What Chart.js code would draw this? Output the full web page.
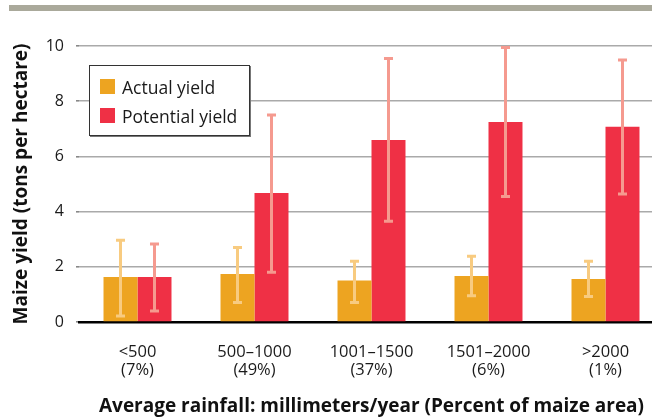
<!DOCTYPE html>
<html>
<head>
<meta charset="utf-8">
<script src="https://cdn.jsdelivr.net/npm/chart.js@4/dist/chart.umd.min.js"></script>
<style>
  html, body { margin: 0; padding: 0; background: #ffffff; overflow: hidden; }
  #wrap { position: relative; width: 652px; height: 418px; overflow: hidden; }
  #topbar { position: absolute; left: 9px; top: 5px; width: 643px; height: 6px; background: #aaa99b; }
  #chart { position: absolute; left: 0; top: 0; }
  #legend {
    position: absolute; left: 89px; top: 65px; width: 159px; height: 69px;
    border: 1px solid #333; box-shadow: 1px 1px 0 #777; background: #fff;
    font-family: "Open Sans", sans-serif; font-size: 17.5px; color: #1a1a1a;
  }
  .item { position: absolute; left: 10px; height: 16px; line-height: 16px; white-space: nowrap; }
  .sw { display: inline-block; width: 15px; height: 15px; vertical-align: top; margin-right: 7px; }
</style>
</head>
<body>
<div id="wrap">
  <div id="topbar"></div>
  <canvas id="chart" width="668" height="418"></canvas>
  <div id="legend">
    <div class="item" style="top:13px"><span class="sw" style="background:#eda421"></span>Actual yield</div>
    <div class="item" style="top:42px"><span class="sw" style="background:#ef3045"></span>Potential yield</div>
  </div>
</div>
<script>
// Rainfall classes (mm/year) with share of maize area
const categories = [
  ['<500', '(7%)'],
  ['500–1000', '(49%)'],
  ['1001–1500', '(37%)'],
  ['1501–2000', '(6%)'],
  ['>2000', '(1%)']
];

// Yields in tons per hectare
const actualYield = [1.63, 1.74, 1.50, 1.67, 1.56];
const actualLow   = [0.22, 0.71, 0.71, 0.95, 0.92];
const actualHigh  = [2.96, 2.70, 2.20, 2.38, 2.20];

const potentialYield = [1.63, 4.67, 6.59, 7.25, 7.07];
const potentialLow   = [0.40, 1.80, 3.65, 4.55, 4.64];
const potentialHigh  = [2.83, 7.50, 9.55, 9.95, 9.49];

const yTicks = [0, 2, 4, 6, 8, 10];

const FONT = '"Open Sans", sans-serif';

// Whisker ranges drawn over each bar
const errorBars = {
  id: 'errorBars',
  afterDatasetsDraw(chart) {
    const ctx = chart.ctx;
    const y = chart.scales.y;
    chart.data.datasets.forEach((ds, i) => {
      const meta = chart.getDatasetMeta(i);
      meta.data.forEach((bar, j) => {
        const top = y.getPixelForValue(ds.high[j]);
        const bot = y.getPixelForValue(ds.low[j]);
        ctx.save();
        ctx.strokeStyle = ds.errColor;
        ctx.lineWidth = 3;
        ctx.beginPath();
        ctx.moveTo(bar.x, top);
        ctx.lineTo(bar.x, bot);
        ctx.stroke();
        ctx.beginPath();
        ctx.moveTo(bar.x - 4.5, top);
        ctx.lineTo(bar.x + 4.5, top);
        ctx.moveTo(bar.x - 4.5, bot);
        ctx.lineTo(bar.x + 4.5, bot);
        ctx.stroke();
        ctx.restore();
      });
    });
  }
};

new Chart(document.getElementById('chart'), {
  type: 'bar',
  data: {
    labels: categories,
    datasets: [
      { label: 'Actual yield', data: actualYield, low: actualLow, high: actualHigh,
        backgroundColor: '#eda421', errColor: '#f8cb80' },
      { label: 'Potential yield', data: potentialYield, low: potentialLow, high: potentialHigh,
        backgroundColor: '#ef3045', errColor: '#f59a8f' }
    ]
  },
  options: {
    responsive: false,
    animation: false,
    devicePixelRatio: 1,
    layout: { padding: { top: 46, right: 4, left: 0, bottom: 0 } },
    datasets: { bar: { barPercentage: 1.0, categoryPercentage: 0.581 } },
    plugins: { legend: { display: false }, tooltip: { enabled: false } },
    scales: {
      x: {
        afterFit(s) { s.height = 96; },
        grid: { display: false, drawTicks: false },
        border: { display: true, color: '#000', width: 2.5 },
        ticks: { color: '#1a1a1a', padding: 21, font: { family: FONT, size: 16.5, lineHeight: 1.1 } },
        title: {
          display: true,
          text: 'Average rainfall: millimeters/year (Percent of maize area)',
          color: '#111',
          font: { family: FONT, size: 19, weight: 'bold' },
          padding: { top: 0, bottom: 0 }
        }
      },
      y: {
        min: 0, max: 10,
        afterFit(s) { s.width = 79; },
        afterBuildTicks(s) { s.ticks = yTicks.map(v => ({ value: v })); },
        grid: { color: '#aaaaaa', lineWidth: 1.6, tickLength: 3, tickColor: '#888' },
        border: { display: false },
        ticks: { color: '#1a1a1a', padding: 12, font: { family: FONT, size: 16 } },
        title: {
          display: true,
          text: 'Maize yield (tons per hectare)',
          color: '#111',
          font: { family: FONT, size: 19, weight: 'bold' },
          padding: { top: 10, bottom: 0 }
        }
      }
    }
  },
  plugins: [errorBars]
});
</script>
</body>
</html>
